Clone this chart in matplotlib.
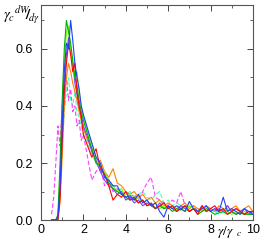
import matplotlib
matplotlib.use("Agg")
import matplotlib.pyplot as plt
from matplotlib.ticker import MultipleLocator

plt.rcParams["font.family"] = ["Liberation Sans", "DejaVu Sans"]
plt.rcParams["mathtext.fontset"] = "stix"

x = [0.5,0.6,0.7,0.8,0.9,1.0,1.1,1.2,1.3,1.4,1.5,1.6,1.7,1.8,1.9,2.0,
     2.2,2.4,2.6,2.8,3.0,3.2,3.4,3.6,3.8,4.0,4.2,4.4,4.6,4.8,5.0,5.2,5.4,5.6,5.8,6.0,
     6.2,6.4,6.6,6.8,7.0,7.2,7.4,7.6,7.8,8.0,8.2,8.4,8.6,8.8,9.0,9.2,9.4,9.6,9.8,10.0]

blue = [0,0,0,0.01,0.12,0.33,0.52,0.62,0.60,0.70,0.63,0.55,0.50,0.46,0.40,0.37,
        0.32,0.27,0.22,0.20,0.15,0.14,0.12,0.12,0.09,0.08,0.085,0.07,0.09,0.06,0.07,0.05,0.06,0.03,0.01,0.05,
        0.04,0.05,0.04,0.03,0.065,0.04,0.03,0.04,0.05,0.03,0.04,0.03,0.08,0.03,0.04,0.03,0.02,0.04,0.03,0.02]
red = [0,0,0,0,0.08,0.28,0.45,0.55,0.62,0.58,0.52,0.55,0.45,0.40,0.36,0.30,
       0.26,0.22,0.25,0.18,0.16,0.12,0.07,0.09,0.08,0.10,0.07,0.08,0.06,0.07,0.05,0.06,0.04,0.05,0.06,0.04,
       0.05,0.03,0.04,0.05,0.03,0.04,0.02,0.05,0.03,0.04,0.05,0.03,0.04,0.02,0.03,0.04,0.03,0.02,0.03,0.03]
green = [0,0,0,0.02,0.20,0.42,0.60,0.70,0.66,0.62,0.56,0.50,0.47,0.42,0.38,0.35,
         0.30,0.25,0.20,0.19,0.16,0.13,0.11,0.10,0.09,0.08,0.07,0.075,0.06,0.07,0.05,0.055,0.04,0.05,0.04,0.045,
         0.03,0.04,0.035,0.05,0.03,0.04,0.02,0.03,0.04,0.03,0.02,0.025,0.03,0.02,0.03,0.02,0.025,0.02,0.02,0.02]
lime = [0,0,0,0.01,0.15,0.38,0.55,0.66,0.68,0.60,0.55,0.50,0.52,0.45,0.40,0.36,
        0.31,0.27,0.22,0.18,0.17,0.14,0.12,0.10,0.11,0.08,0.09,0.07,0.08,0.06,0.07,0.05,0.06,0.04,0.05,0.04,
        0.05,0.03,0.04,0.03,0.05,0.04,0.03,0.04,0.03,0.04,0.03,0.03,0.04,0.03,0.02,0.03,0.02,0.03,0.02,0.02]
purple = [0,0,0,0.01,0.10,0.30,0.48,0.58,0.64,0.60,0.55,0.48,0.44,0.40,0.37,0.33,
          0.29,0.24,0.21,0.17,0.14,0.12,0.11,0.09,0.10,0.07,0.08,0.06,0.07,0.05,0.06,0.05,0.04,0.06,0.04,0.05,
          0.04,0.03,0.05,0.04,0.03,0.04,0.03,0.05,0.03,0.04,0.03,0.04,0.03,0.05,0.03,0.02,0.03,0.04,0.02,0.03]
orange = [0,0,0,0,0.06,0.22,0.40,0.50,0.55,0.52,0.48,0.45,0.42,0.38,0.35,0.32,
          0.28,0.25,0.20,0.21,0.17,0.15,0.18,0.13,0.12,0.10,0.09,0.10,0.08,0.09,0.07,0.08,0.06,0.07,0.05,0.06,
          0.05,0.04,0.05,0.06,0.04,0.05,0.04,0.03,0.05,0.04,0.03,0.05,0.04,0.03,0.04,0.05,0.03,0.04,0.05,0.03]
magenta = [0.02,0.08,0.20,0.33,0.26,0.40,0.45,0.50,0.42,0.46,0.38,0.40,0.33,0.35,0.28,0.30,
           0.22,0.14,0.17,0.19,0.12,0.14,0.10,0.11,0.09,0.10,0.08,0.09,0.07,0.10,0.13,0.15,0.08,0.07,0.06,0.05,
           0.07,0.06,0.10,0.05,0.04,0.05,0.03,0.04,0.05,0.03,0.04,0.03,0.04,0.05,0.03,0.04,0.03,0.02,0.03,0.03]
aqua = [0,0,0,0.01,0.10,0.25,0.38,0.45,0.50,0.42,0.40,0.45,0.38,0.36,0.33,0.30,
        0.27,0.23,0.20,0.17,0.15,0.13,0.12,0.11,0.10,0.09,0.10,0.08,0.09,0.10,0.08,0.07,0.09,0.10,0.06,0.07,
        0.05,0.06,0.05,0.04,0.05,0.04,0.03,0.04,0.03,0.04,0.03,0.02,0.03,0.04,0.03,0.02,0.03,0.02,0.03,0.02]

series = [
    (aqua, "#40ffc0", "--"),
    (magenta, "#ff40ff", "--"),
    (orange, "#ff8000", "-"),
    (purple, "#8040ff", "-"),
    (lime, "#70ff00", "-"),
    (green, "#00b000", "-"),
    (red, "#ff0000", "-"),
    (blue, "#2040ff", "-"),
]

xticks = [0, 2, 4, 6, 8, 10]
yticks = [0.0, 0.2, 0.4, 0.6]

fig = plt.figure(figsize=(2.61, 2.41), dpi=100)
ax = fig.add_axes([0.157, 0.087, 0.812, 0.892])
for ys, c, ls in series:
    if ls == "--":
        ax.plot(x, ys, color=c, lw=0.8, dashes=(4, 2))
    else:
        ax.plot(x, ys, color=c, lw=0.8)

ax.set_xlim(0, 10)
ax.set_ylim(0, 0.754)
ax.set_xticks(xticks)
ax.set_xticklabels(["0", "2", "4", "6", "8", "10"])
ax.set_yticks(yticks)
ax.set_yticklabels(["0.0", "0.2", "0.4", "0.6"])
ax.xaxis.set_minor_locator(MultipleLocator(1))
ax.yaxis.set_minor_locator(MultipleLocator(0.1))
ax.tick_params(which="both", direction="in", top=True, right=True, labelsize=9, color="#444444")
ax.tick_params(which="major", length=4, width=0.7)
ax.tick_params(which="minor", length=2, width=0.6)
ax.tick_params(axis="y", pad=6)
ax.tick_params(axis="x", pad=3)
for s in ax.spines.values():
    s.set_linewidth(0.8)
    s.set_color("#555555")

fig.text(0.01, 0.938, r"$\gamma_c{}^{dW}\!\!\mathbf{/}_{\!d\gamma}$", fontsize=10.5, ha="left", va="center")
ax.text(8.9, -0.013, r"$\gamma/\gamma_{\ \ c}$", fontsize=9.5, ha="center", va="top")

fig.savefig("out.png", dpi=100)
